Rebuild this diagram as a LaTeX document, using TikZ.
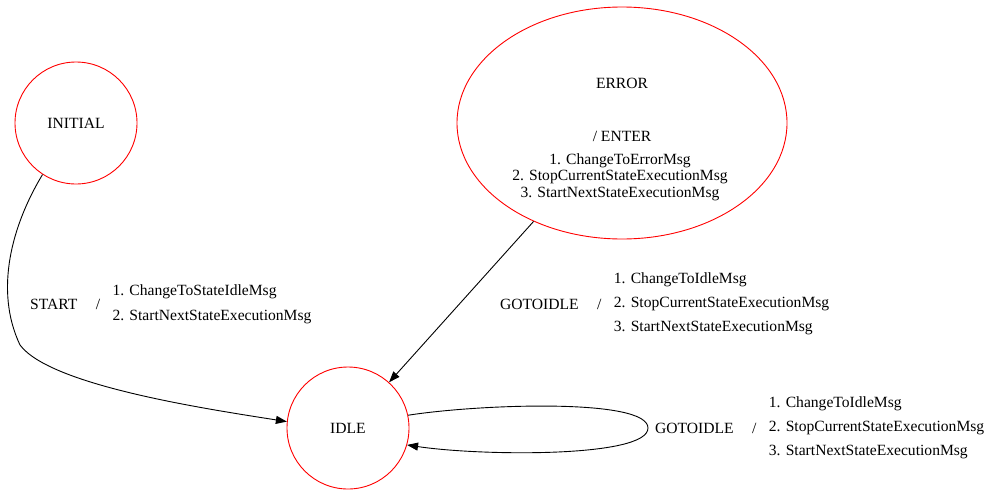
\documentclass[tikz,border=0pt]{standalone}
\usepackage{fontspec}
\setmainfont{Liberation Serif}
\usetikzlibrary{positioning,arrows.meta,shapes.geometric}

\begin{document}
\begin{tikzpicture}[x=1pt, y=1pt, font=\fontsize{15.6}{16.5}\selectfont]
        \tikzstyle{state}=[circle, draw=red, line width=0.9pt, minimum size=122pt, inner sep=0pt]
        \tikzstyle{bigstate}=[ellipse, draw=red, line width=0.9pt, minimum width=330pt, minimum height=232pt, inner sep=0pt]
        \tikzstyle{txt}=[inner sep=0pt]
        \tikzstyle{evt}=[inner sep=0pt, anchor=west]
        \tikzstyle{acts}=[inner sep=0pt, align=left]
        \tikzstyle{trans}=[draw, line width=0.9pt, -{Triangle[length=11pt, width=8pt]}]
        \useasboundingbox (0,0) rectangle (1001,-496);
        \node[state] (INITIAL) at (76,-123) {INITIAL};
        \node[state] (IDLE) at (348,-428) {IDLE};
        \node[bigstate] (ERROR) at (622,-123) {};
        \node[txt] (errname) at (622,-83) {ERROR};
        \node[txt] (errentry) at (622,-136) {/ ENTER};
        \node[txt, align=center] (erracts) at (620,-177) {1. ChangeToErrorMsg\\2. StopCurrentStateExecutionMsg\\3. StartNextStateExecutionMsg};
        % INITIAL -> IDLE
        \node[evt] (startevt) at (30,-304) {START};
        \node[txt, right=18pt of startevt] (startsl) {/};
        \node[acts, right=12pt of startsl] (startacts) {1. ChangeToStateIdleMsg\\[8.5pt]2. StartNextStateExecutionMsg};
        \path[trans] (INITIAL.237) .. controls (12,-225) and (-6,-290) .. (20,-345)
            .. controls (50,-385) and (200,-408) .. (IDLE.174);
        % ERROR -> IDLE
        \node[evt] (erridleevt) at (500,-304) {GOTOIDLE};
        \node[txt, right=18pt of erridleevt] (erridlesl) {/};
        \node[acts, right=12pt of erridlesl] (erridleacts) {1. ChangeToIdleMsg\\[7.5pt]2. StopCurrentStateExecutionMsg\\[7.5pt]3. StartNextStateExecutionMsg};
        \path[trans] (ERROR) -- (IDLE);
        % IDLE -> IDLE
        \node[evt] (idleevt) at (655,-428) {GOTOIDLE};
        \node[txt, right=18pt of idleevt] (idlesl) {/};
        \node[acts, right=12pt of idlesl] (idleacts) {1. ChangeToIdleMsg\\[7.5pt]2. StopCurrentStateExecutionMsg\\[7.5pt]3. StartNextStateExecutionMsg};
        \path[trans] (IDLE.12) .. controls (480,-404) and (648,-398) .. (648,-428)
            .. controls (648,-458) and (480,-456) .. (IDLE.-16);
    \end{tikzpicture}
\end{document}
